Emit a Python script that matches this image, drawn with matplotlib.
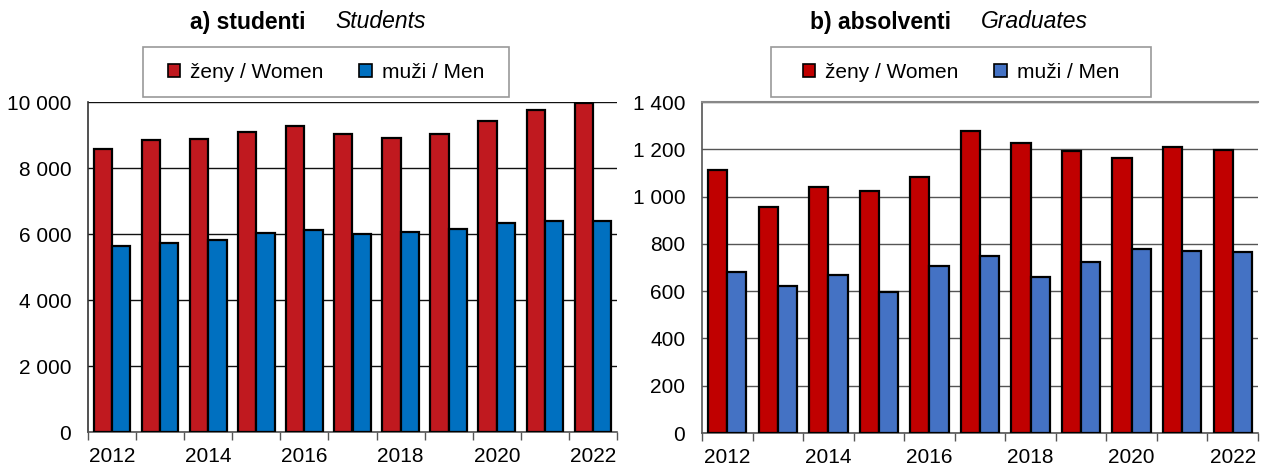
import matplotlib
matplotlib.use("Agg")
import matplotlib.pyplot as plt
from matplotlib.ticker import FuncFormatter, FixedLocator
from matplotlib.patches import Rectangle
import numpy as np

plt.rcParams['font.family'] = ['Liberation Sans', 'DejaVu Sans']

W, H = 1261, 465

years = list(range(2012, 2023))
year_labels = [str(y) if y % 2 == 0 else "" for y in years]

# a) students
students_women = [8580, 8860, 8890, 9080, 9280, 9040, 8900, 9040, 9410, 9770, 9980]
students_men = [5630, 5740, 5820, 6020, 6110, 6000, 6060, 6150, 6340, 6390, 6400]

# b) graduates
graduates_women = [1113, 955, 1040, 1023, 1084, 1277, 1228, 1192, 1163, 1208, 1198]
graduates_men = [679, 622, 669, 597, 707, 749, 658, 724, 779, 768, 767]

legend_labels = ["ženy / Women", "muži / Men"]


def space_thousands(v, pos):
    return f"{int(round(v)):,}".replace(",", " ")


def draw_panel(ax, women, men, c_women, c_men, ymax, ystep, grid_color, frame_color):
    x = np.arange(len(years))
    w = 0.38
    b1 = ax.bar(x - w / 2, women, width=w, color=c_women, edgecolor="black",
                linewidth=1.6, zorder=3, label=legend_labels[0])
    b2 = ax.bar(x + w / 2, men, width=w, color=c_men, edgecolor="black",
                linewidth=1.6, zorder=3, label=legend_labels[1])
    ax.set_xlim(-0.5, len(years) - 0.5)
    ax.set_ylim(0, ymax)
    ax.set_yticks(np.arange(0, ymax + 1, ystep))
    ax.yaxis.set_major_formatter(FuncFormatter(space_thousands))
    ax.yaxis.grid(True, color=grid_color, linewidth=1.0, zorder=0)
    ax.set_axisbelow(True)

    # labels at category centres, tick marks at category boundaries
    ax.set_xticks(x)
    ax.set_xticklabels(year_labels)
    ax.tick_params(axis="x", which="major", length=0, pad=11, labelsize=15)
    ax.xaxis.set_minor_locator(FixedLocator(np.arange(-0.5, len(years), 1.0)))
    ax.tick_params(axis="x", which="minor", length=6, width=1, color="#555555",
                   direction="out")
    ax.tick_params(axis="y", length=0, pad=12, labelsize=15)

    for s in ["top", "right"]:
        ax.spines[s].set_visible(False)
    ax.spines["left"].set_color(frame_color)
    ax.spines["bottom"].set_color("#555555")
    ax.spines["left"].set_linewidth(1.2)
    ax.spines["bottom"].set_linewidth(1.2)
    return b1, b2


fig = plt.figure(figsize=(W / 100, H / 100), dpi=100)

ax1 = fig.add_axes([88 / W, 1 - 432 / H, (617 - 88) / W, (432 - 102) / H])
ax2 = fig.add_axes([702 / W, 1 - 433 / H, (1258 - 702) / W, (433 - 102) / H])

h1 = draw_panel(ax1, students_women, students_men, "#C0191F", "#0070C0",
                10000, 2000, "#111111", "#333333")
h2 = draw_panel(ax2, graduates_women, graduates_men, "#C00000", "#4472C4",
                1400, 200, "#555555", "#555555")
ax2.spines["top"].set_visible(True)
ax2.spines["top"].set_color("#888888")
ax2.spines["top"].set_linewidth(1.5)

# titles (bold Czech part + italic English part)
for bold, ital, xb, xi in [("a) studenti", "Students", 306, 335),
                           ("b) absolventi", "Graduates", 951, 981)]:
    fig.text(xb / W, 1 - 22 / H, bold, fontsize=16.5, fontweight="bold",
             ha="right", va="center")
    fig.text(xi / W, 1 - 22 / H, ital, fontsize=16.5, fontstyle="italic",
             ha="left", va="center")

# legends: frameless legend + separate box
for handles, (x0, x1) in [(h1, (143, 509)), (h2, (771, 1151))]:
    y0, y1 = 47, 97
    leg = fig.legend(handles, legend_labels, loc="center",
                     bbox_to_anchor=((x0 + x1) / 2 / W, 1 - (y0 + y1) / 2 / H),
                     ncol=2, fontsize=15, frameon=False,
                     handlelength=0.6, handleheight=0.6, handletextpad=0.5,
                     columnspacing=1.7, borderpad=0.0)
    for p in leg.get_patches():
        p.set_linewidth(1.2)
    fig.patches.append(Rectangle((x0 / W, 1 - y1 / H), (x1 - x0) / W, (y1 - y0) / H,
                                 transform=fig.transFigure, fill=False,
                                 edgecolor="#999999", linewidth=1.2))

fig.savefig("out.png", dpi=100)
